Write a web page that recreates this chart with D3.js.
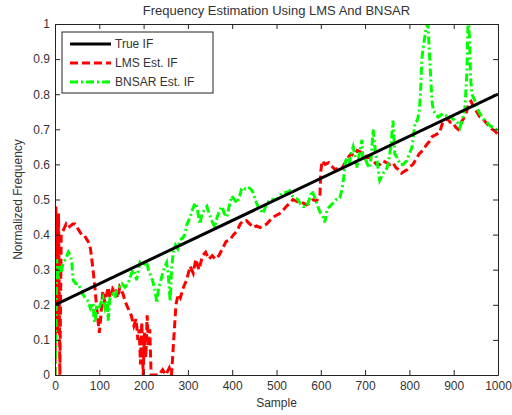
<!DOCTYPE html>
<html>
<head>
<meta charset="utf-8">
<script src="https://cdn.jsdelivr.net/npm/d3@7"></script>
<style>
  body { margin: 0; background: #fff; }
  svg text { font-family: "Liberation Sans Narrow", "Arial Narrow", "Liberation Sans", Arial, sans-serif; fill: #333; }
</style>
</head>
<body>
<svg width="512" height="415"></svg>
<script>
// ---- data ----
const trueSample = [0, 1000];
const trueIF = [0.2, 0.8];

const lmsSample = [0,2,5,8,11,14,18,25,30,35,40,45,50,55,60,65,70,75,80,85,90,95,100,103,108,112,115,120,124,128,131,135,139,142,146,150,154,158,165,172,178,183,187,190,193,196,199,202,205,208,211,214,217,225,235,243,250,258,263,268,273,278,283,290,297,305,312,318,325,333,340,347,355,362,370,378,386,395,403,411,418,425,432,440,447,455,463,470,478,485,492,500,507,515,522,530,537,545,553,560,568,575,583,590,598,600,603,610,618,625,632,640,648,655,662,668,675,682,690,697,704,711,718,726,733,740,748,756,763,770,776,782,788,795,802,808,815,822,830,838,845,852,860,868,874,880,886,892,898,905,910,917,922,928,934,939,945,952,959,966,972,980,987,993,1000];
const lmsIF = [0.0,0.48,0.12,0.46,0.0,0.40,0.41,0.43,0.42,0.425,0.43,0.43,0.42,0.41,0.40,0.40,0.39,0.38,0.36,0.31,0.25,0.18,0.12,0.16,0.24,0.21,0.22,0.25,0.22,0.23,0.25,0.25,0.23,0.22,0.25,0.24,0.23,0.21,0.19,0.17,0.14,0.16,0.10,0.13,0.03,0.15,0.00,0.12,0.05,0.17,0.08,0.13,0.00,0.0,0.0,0.015,0.0,0.02,0.0,0.10,0.20,0.23,0.22,0.25,0.27,0.31,0.29,0.33,0.30,0.34,0.35,0.33,0.34,0.33,0.34,0.36,0.38,0.385,0.40,0.41,0.43,0.44,0.44,0.43,0.42,0.425,0.42,0.425,0.43,0.44,0.45,0.455,0.46,0.47,0.48,0.49,0.50,0.495,0.49,0.49,0.485,0.49,0.50,0.495,0.51,0.58,0.61,0.60,0.605,0.595,0.585,0.59,0.59,0.605,0.62,0.63,0.625,0.64,0.635,0.63,0.62,0.62,0.61,0.60,0.60,0.61,0.605,0.60,0.605,0.59,0.585,0.575,0.58,0.585,0.595,0.60,0.615,0.63,0.64,0.655,0.665,0.68,0.685,0.69,0.715,0.725,0.73,0.72,0.72,0.705,0.70,0.72,0.73,0.745,0.775,0.78,0.765,0.75,0.735,0.73,0.72,0.71,0.70,0.695,0.685];

const bnsarSample = [0,2,4,7,10,14,18,24,30,35,38,41,47,52,56,60,63,68,75,80,86,88,90,94,97,102,108,113,118,120,124,130,135,139,145,151,158,165,170,176,180,184,188,192,198,203,207,211,214,220,226,230,234,237,243,248,252,256,260,263,267,272,277,282,288,293,298,305,310,316,320,323,327,332,337,343,348,354,361,366,372,377,382,388,393,399,405,411,417,421,425,430,436,442,447,452,458,464,470,475,480,485,492,500,507,515,522,530,536,542,548,553,560,568,574,580,585,591,596,600,605,609,614,620,628,635,643,648,652,656,660,664,668,673,678,682,687,693,695,700,705,711,715,718,722,727,733,737,741,746,752,758,763,767,772,779,786,794,800,806,810,813,818,822,825,828,832,835,838,842,845,848,851,854,860,865,870,876,882,888,892,898,903,908,914,918,922,925,928,930,932,934,936,938,941,945,948,953,959,965,970,975,982,989,995,1000];
const bnsarIF = [0.0,0.12,0.33,0.27,0.31,0.29,0.32,0.33,0.35,0.34,0.32,0.27,0.26,0.26,0.25,0.24,0.23,0.22,0.21,0.19,0.205,0.16,0.15,0.19,0.185,0.20,0.22,0.19,0.21,0.155,0.22,0.23,0.22,0.24,0.25,0.26,0.25,0.26,0.28,0.30,0.29,0.27,0.30,0.32,0.31,0.32,0.32,0.30,0.29,0.27,0.24,0.205,0.25,0.26,0.29,0.31,0.32,0.28,0.21,0.30,0.35,0.37,0.36,0.385,0.39,0.40,0.43,0.45,0.47,0.49,0.48,0.46,0.43,0.46,0.47,0.48,0.46,0.44,0.42,0.45,0.47,0.48,0.46,0.45,0.48,0.51,0.50,0.49,0.51,0.53,0.535,0.53,0.535,0.53,0.52,0.50,0.48,0.47,0.46,0.48,0.49,0.50,0.50,0.50,0.51,0.52,0.52,0.525,0.51,0.505,0.50,0.49,0.48,0.48,0.50,0.525,0.51,0.49,0.47,0.46,0.45,0.435,0.47,0.48,0.49,0.50,0.505,0.53,0.565,0.61,0.62,0.60,0.63,0.65,0.62,0.59,0.63,0.67,0.61,0.62,0.60,0.59,0.64,0.70,0.65,0.61,0.555,0.565,0.575,0.58,0.60,0.65,0.725,0.63,0.62,0.60,0.60,0.61,0.63,0.65,0.69,0.72,0.725,0.75,0.80,0.90,0.94,0.965,0.99,1.0,0.92,0.85,0.78,0.755,0.74,0.735,0.74,0.745,0.74,0.73,0.735,0.73,0.725,0.72,0.705,0.72,0.74,0.755,0.82,0.87,0.99,1.0,0.95,0.85,0.80,0.79,0.78,0.76,0.745,0.735,0.725,0.72,0.71,0.705,0.70,0.70];

const xTicks = [0,100,200,300,400,500,600,700,800,900,1000];
const yTicks = [0,0.1,0.2,0.3,0.4,0.5,0.6,0.7,0.8,0.9,1];
const seriesNames = ['True IF', 'LMS Est. IF', 'BNSAR Est. IF'];

// ---- layout ----
const svg = d3.select('svg');
const width = +svg.attr('width');
const height = +svg.attr('height');
const margin = { top: 24, right: 14, bottom: 40, left: 55 };
const innerWidth = width - margin.left - margin.right;
const innerHeight = height - margin.top - margin.bottom;

const g = svg.append('g')
  .attr('transform', `translate(${margin.left},${margin.top})`);

const x = d3.scaleLinear().domain([0, 1000]).range([0, innerWidth]);
const y = d3.scaleLinear().domain([0, 1]).range([innerHeight, 0]);

g.append('clipPath').attr('id', 'clip')
  .append('rect').attr('width', innerWidth).attr('height', innerHeight);

const line = d3.line().x(d => x(d[0])).y(d => y(d[1]));
const zip = (a, b) => a.map((v, i) => [v, b[i]]);

const styles = [
  { color: '#000000', dash: null },
  { color: '#ff0000', dash: '8,4' },
  { color: '#00ff00', dash: '8,3,2,3' }
];

const plot = g.append('g').attr('clip-path', 'url(#clip)');

// red and green first, black on top
plot.append('path')
  .attr('d', line(zip(lmsSample, lmsIF)))
  .style('fill', 'none').style('stroke', styles[1].color)
  .style('stroke-width', 3).style('stroke-dasharray', styles[1].dash);

plot.append('path')
  .attr('d', line(zip(bnsarSample, bnsarIF)))
  .style('fill', 'none').style('stroke', styles[2].color)
  .style('stroke-width', 3).style('stroke-dasharray', styles[2].dash);

plot.append('path')
  .attr('d', line(zip(trueSample, trueIF)))
  .style('fill', 'none').style('stroke', styles[0].color)
  .style('stroke-width', 3);

// axes, ticks pointing inwards like matlab
const fmtY = d => d === 0 || d === 1 ? d3.format('d')(d) : d3.format('.1f')(d);

g.append('g')
  .attr('transform', `translate(0,${innerHeight})`)
  .call(d3.axisBottom(x).tickValues(xTicks).tickFormat(d3.format('d')).tickSize(-5).tickSizeOuter(0).tickPadding(6))
  .call(a => a.selectAll('text').style('font-size', '12px'));

g.append('g')
  .call(d3.axisLeft(y).tickValues(yTicks).tickFormat(fmtY).tickSize(-5).tickSizeOuter(0).tickPadding(5))
  .call(a => a.selectAll('text').style('font-size', '12px'));

g.append('g')
  .call(d3.axisTop(x).tickValues(xTicks).tickFormat('').tickSize(-5).tickSizeOuter(0));

g.append('g')
  .attr('transform', `translate(${innerWidth},0)`)
  .call(d3.axisRight(y).tickValues(yTicks).tickFormat('').tickSize(-5).tickSizeOuter(0));

g.selectAll('.domain, .tick line').style('stroke', '#222');

// titles
svg.append('text')
  .attr('x', margin.left + innerWidth / 2)
  .attr('y', 15)
  .style('text-anchor', 'middle')
  .style('font-size', '13px')
  .text('Frequency Estimation Using LMS And BNSAR');

svg.append('text')
  .attr('x', margin.left + innerWidth / 2)
  .attr('y', 407)
  .style('text-anchor', 'middle')
  .style('font-size', '12px')
  .text('Sample');

svg.append('text')
  .attr('transform', `translate(22,${margin.top + innerHeight / 2}) rotate(-90)`)
  .style('text-anchor', 'middle')
  .style('font-size', '12px')
  .text('Normalized Frequency');

// legend
const legend = svg.append('g').attr('transform', 'translate(62,32)');
legend.append('rect')
  .attr('width', 151).attr('height', 61)
  .style('fill', '#fff').style('stroke', '#222').style('stroke-width', 1);

seriesNames.forEach((name, i) => {
  const yy = 12 + i * 19;
  legend.append('line')
    .attr('x1', 8).attr('x2', 49).attr('y1', yy).attr('y2', yy)
    .style('stroke', styles[i].color).style('stroke-width', 3)
    .style('stroke-dasharray', styles[i].dash);
  legend.append('text')
    .attr('x', 53).attr('y', yy + 4)
    .style('font-size', '12px')
    .text(name);
});
</script>
</body>
</html>
